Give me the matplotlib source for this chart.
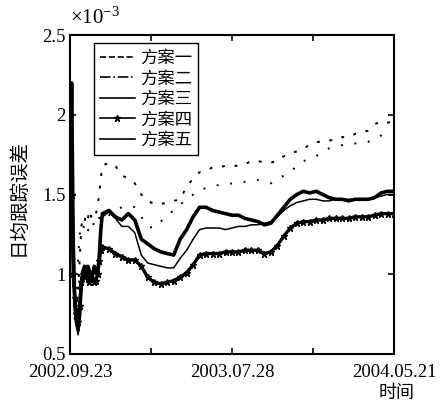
import matplotlib
matplotlib.use("Agg")
import matplotlib.pyplot as plt
from matplotlib.lines import Line2D

plt.rcParams['font.family'] = ['Liberation Serif', 'Noto Sans CJK SC']
plt.rcParams['mathtext.fontset'] = 'custom'
plt.rcParams['mathtext.rm'] = 'Liberation Serif'

# x positions (trading-day index)
x = [0, 2, 4, 6, 8, 10, 12, 14, 16, 18, 20, 22, 24, 26, 28, 30, 32, 34, 36, 38, 40,
     48, 56, 64, 72, 80, 88, 96, 104, 112, 120, 128, 136, 144, 152, 160, 168, 176,
     184, 192, 200, 208, 216, 224, 232, 240, 248, 256, 264, 272, 280, 288, 296,
     304, 312, 320, 328, 336, 344, 352, 360, 368, 376, 384, 392, 400]

plan1 = [1.20, 1.60, 1.00, 0.70, 0.80, 0.90, 1.10, 1.30, 1.35, 1.33, 1.38, 1.35, 1.40, 1.36, 1.38, 1.40, 1.38, 1.42, 1.50, 1.60, 1.68,
         1.70, 1.68, 1.62, 1.60, 1.57, 1.50, 1.46, 1.44, 1.44, 1.45, 1.46, 1.47, 1.55, 1.60, 1.64, 1.65, 1.67,
         1.67, 1.68, 1.68, 1.68, 1.69, 1.71, 1.71, 1.70, 1.70, 1.71, 1.74, 1.76, 1.77, 1.79, 1.81,
         1.83, 1.83, 1.84, 1.84, 1.86, 1.86, 1.88, 1.89, 1.90, 1.94, 1.96, 1.95, 1.96]

plan2 = [1.10, 1.40, 0.90, 0.75, 0.90, 1.10, 1.25, 1.30, 1.28, 1.32, 1.30, 1.27, 1.30, 1.32, 1.30, 1.33, 1.35, 1.33, 1.35, 1.38, 1.38,
         1.37, 1.40, 1.42, 1.43, 1.42, 1.36, 1.30, 1.29, 1.33, 1.37, 1.40, 1.44, 1.46, 1.50, 1.53, 1.54, 1.55,
         1.56, 1.56, 1.57, 1.57, 1.58, 1.59, 1.59, 1.58, 1.57, 1.59, 1.62, 1.64, 1.68, 1.71, 1.72,
         1.74, 1.77, 1.79, 1.80, 1.81, 1.82, 1.82, 1.82, 1.83, 1.85, 1.87, 1.88, 1.88]

plan3 = [1.30, 2.20, 1.20, 0.80, 0.70, 0.65, 0.75, 0.95, 1.02, 1.05, 1.00, 1.05, 1.02, 0.98, 1.00, 1.05, 1.02, 1.00, 1.10, 1.28, 1.38,
         1.40, 1.36, 1.34, 1.38, 1.34, 1.22, 1.19, 1.16, 1.14, 1.13, 1.12, 1.22, 1.28, 1.36, 1.42, 1.42, 1.40,
         1.39, 1.38, 1.37, 1.37, 1.35, 1.34, 1.33, 1.31, 1.32, 1.37, 1.42, 1.47, 1.50, 1.52, 1.51,
         1.52, 1.50, 1.48, 1.47, 1.47, 1.46, 1.47, 1.47, 1.47, 1.48, 1.51, 1.52, 1.52]

plan4 = [1.20, 1.50, 1.00, 0.85, 0.75, 0.70, 0.80, 0.95, 1.00, 0.98, 1.02, 0.97, 0.95, 1.00, 0.97, 0.95, 0.96, 1.00, 1.08, 1.15, 1.17,
         1.16, 1.13, 1.11, 1.09, 1.09, 1.05, 0.98, 0.95, 0.94, 0.95, 0.96, 0.98, 1.01, 1.06, 1.12, 1.13, 1.13,
         1.13, 1.14, 1.14, 1.14, 1.15, 1.15, 1.15, 1.13, 1.14, 1.18, 1.24, 1.29, 1.32, 1.33, 1.33,
         1.34, 1.34, 1.35, 1.35, 1.35, 1.35, 1.36, 1.36, 1.36, 1.37, 1.38, 1.38, 1.38]

plan5 = [1.25, 2.00, 1.10, 0.75, 0.68, 0.62, 0.70, 0.90, 1.00, 1.03, 0.98, 1.02, 1.00, 0.96, 0.98, 1.02, 1.00, 0.98, 1.08, 1.25, 1.36,
         1.39, 1.35, 1.30, 1.30, 1.26, 1.12, 1.07, 1.06, 1.05, 1.04, 1.04, 1.10, 1.15, 1.22, 1.28, 1.29, 1.29,
         1.29, 1.28, 1.29, 1.30, 1.30, 1.31, 1.31, 1.32, 1.33, 1.36, 1.40, 1.43, 1.45, 1.46, 1.47,
         1.47, 1.46, 1.46, 1.47, 1.47, 1.47, 1.47, 1.47, 1.47, 1.48, 1.49, 1.50, 1.50]

labels = ['方案一', '方案二', '方案三', '方案四', '方案五']
xtick_pos = [0, 100, 200, 300, 400]
xtick_labels = ['2002.09.23', '', '2003.07.28', '', '2004.05.21']
ytick_pos = [0.5, 1.0, 1.5, 2.0, 2.5]
ytick_labels = ['0.5', '1', '1.5', '2', '2.5']

fig = plt.figure(figsize=(4.48, 4.05), dpi=100)
ax = fig.add_axes([70/448, 51/405, 324/448, 319/405])

ax.plot(x, plan1, color='black', lw=1.4, dashes=(1.5, 5))
ax.plot(x, plan2, color='black', lw=1.4, dashes=(1, 6))
ax.plot(x, plan3, color='black', lw=2.6)
ax.plot(x, plan4, color='black', lw=2.4, marker='*', markersize=4.5)
ax.plot(x, plan5, color='black', lw=1.1)

ax.set_xlim(0, 400)
ax.set_ylim(0.5, 2.5)
ax.set_xticks(xtick_pos)
ax.set_xticklabels(xtick_labels, fontsize=13.5)
ax.set_yticks(ytick_pos)
ax.set_yticklabels(ytick_labels, fontsize=13.5)
ax.tick_params(direction='in', top=True, right=True, length=4, width=1.2)
ax.tick_params(axis='x', pad=7.5)
ax.tick_params(axis='y', pad=3)
for s in ax.spines.values():
    s.set_linewidth(1.5)

handles = [
    Line2D([], [], color='black', lw=1.2, linestyle='--'),
    Line2D([], [], color='black', lw=1.2, linestyle='-.'),
    Line2D([], [], color='black', lw=1.2),
    Line2D([], [], color='black', lw=1.2, marker='*', markersize=5),
    Line2D([], [], color='black', lw=1.2),
]
leg = ax.legend(handles, labels, loc='upper left', bbox_to_anchor=(0.074, 0.975),
                prop={'family': ['Noto Sans CJK SC'], 'size': 12.5},
                frameon=True, fancybox=False, edgecolor='black', framealpha=1,
                handlelength=2.0, handletextpad=0.3, labelspacing=0.14,
                borderpad=0.35, borderaxespad=0)
leg.get_frame().set_linewidth(1.0)

fig.text(70/448, 1 - 18/405, r'$\times\mathregular{10^{-3}}$', fontsize=15,
         ha='left', va='center')
fig.text(18/448, 1 - 197/405, '日均跟踪误差', rotation=90, fontsize=14,
         family=['Noto Sans CJK SC'], ha='center', va='center')
fig.text(397/448, 1 - 393/405, '时间', fontsize=13,
         family=['Noto Sans CJK SC'], ha='center', va='center')

fig.savefig('out.png', dpi=100)
